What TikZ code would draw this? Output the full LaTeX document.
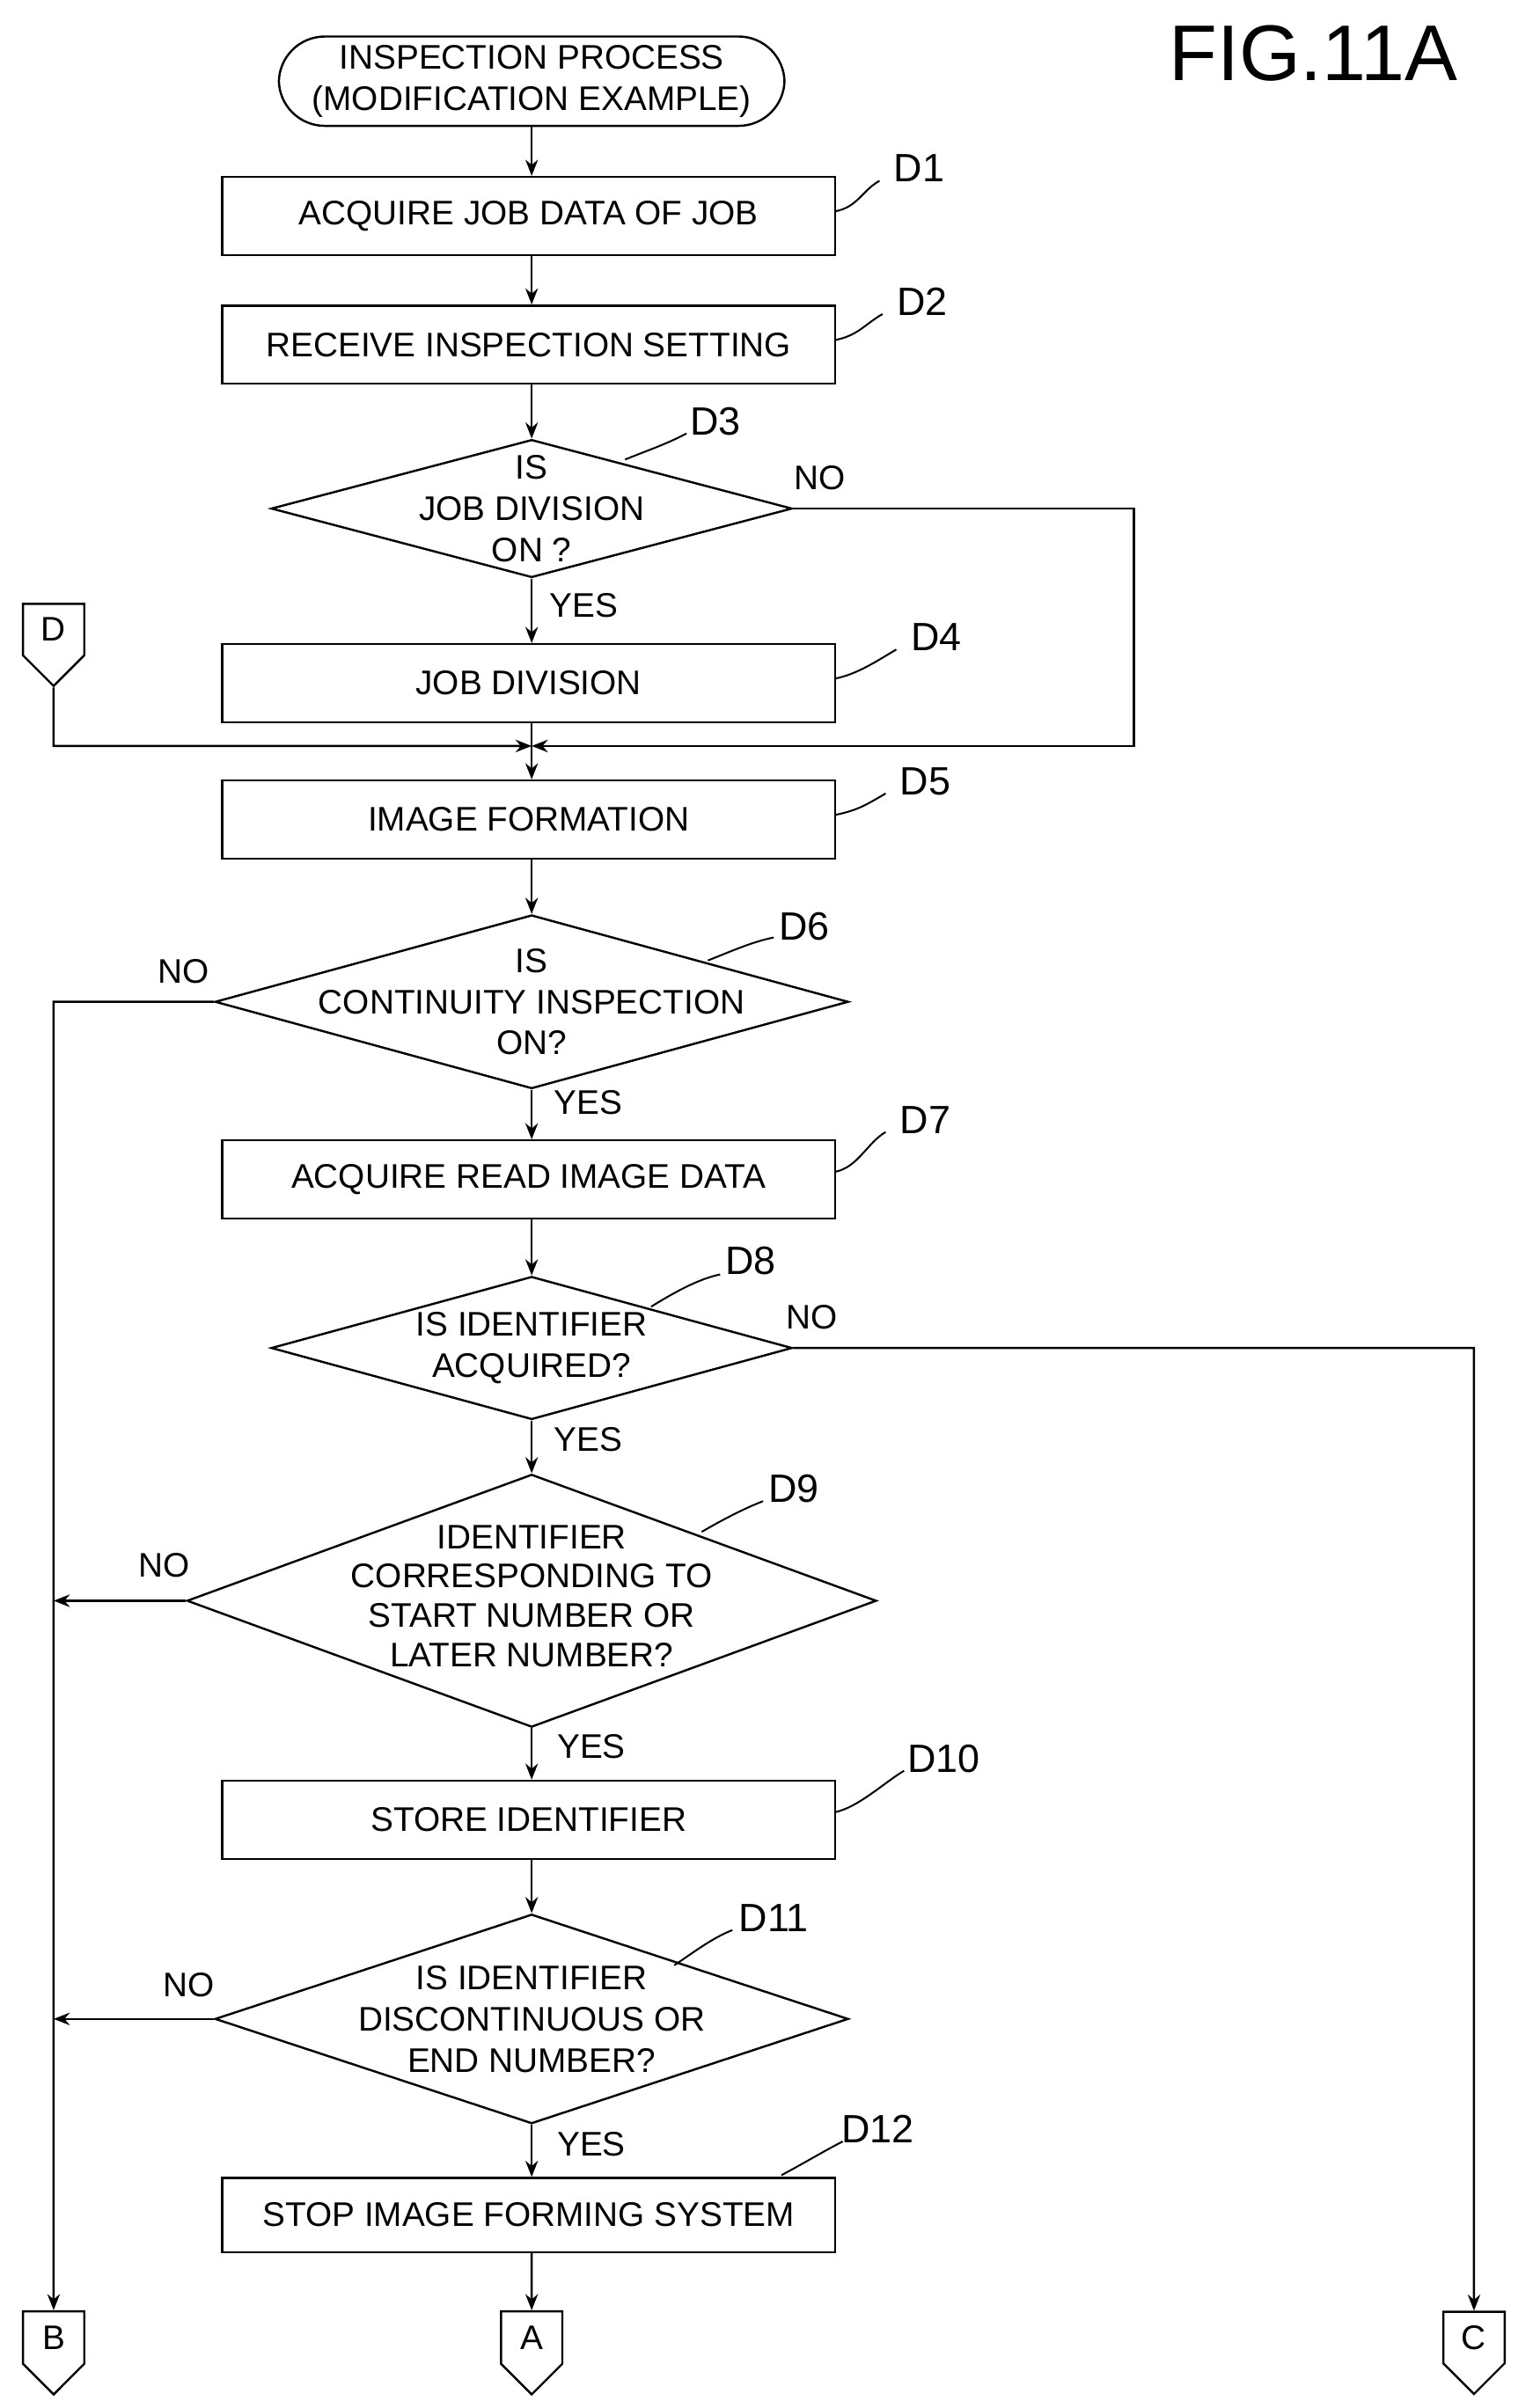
\documentclass[tikz,border=0pt]{standalone}
\usepackage{fontspec}
\setmainfont{Liberation Sans}
\usetikzlibrary{shapes.geometric,shapes.symbols,arrows.meta}
\begin{document}
\begin{tikzpicture}[x=0.03cm,y=-0.03cm,
  every node/.style={font=\fontsize{19pt}{23pt}\selectfont},
  box/.style={draw,line width=1.2pt,minimum width=12cm,minimum height=1.53cm,inner sep=0pt},
  dia/.style={draw,line width=1.2pt,diamond,inner sep=0pt},
  txt/.style={align=center,inner sep=0pt},
  con/.style={draw,line width=1.2pt,signal,signal to=south,signal from=nowhere,minimum width=1.2cm,minimum height=1.25cm,inner sep=0pt},
  lab/.style={font=\fontsize{22pt}{26pt}\selectfont},
  arr/.style={line width=1.2pt,-{Stealth[length=9pt,width=7pt]}},
  ln/.style={line width=1.2pt},
  lead/.style={line width=1pt}]
\useasboundingbox (0,0) rectangle (1000,1572);
\node[font=\fontsize{44pt}{48pt}\selectfont] (fig) at (857,35) {FIG.11A};
\node[draw,line width=1.2pt,rounded corners=0.9cm,minimum width=9.9cm,minimum height=1.75cm,txt] (st) at (347,53) {INSPECTION PROCESS\\(MODIFICATION EXAMPLE)};
\node[box] (d1) at (345,141) {ACQUIRE JOB DATA OF JOB};
\node[box] (d2) at (345,225) {RECEIVE INSPECTION SETTING};
\node[dia,minimum width=10.2cm,minimum height=2.7cm] (d3) at (347,332) {};
\node[txt] at (347,332) {IS\\JOB DIVISION\\ON ?};
\node[box] (d4) at (345,446) {JOB DIVISION};
\node[box] (d5) at (345,535) {IMAGE FORMATION};
\node[dia,minimum width=12.4cm,minimum height=3.4cm] (d6) at (347,654) {};
\node[txt] at (347,654) {IS\\CONTINUITY INSPECTION\\ON?};
\node[box] (d7) at (345,770) {ACQUIRE READ IMAGE DATA};
\node[dia,minimum width=10.2cm,minimum height=2.8cm] (d8) at (347,880) {};
\node[txt] at (347,880) {IS IDENTIFIER\\ACQUIRED?};
\node[dia,minimum width=13.5cm,minimum height=4.95cm] (d9) at (347,1045) {};
\node[txt,font=\fontsize{19pt}{22pt}\selectfont] at (347,1042) {IDENTIFIER\\CORRESPONDING TO\\START NUMBER OR\\LATER NUMBER?};
\node[box] (d10) at (345,1188) {STORE IDENTIFIER};
\node[dia,minimum width=12.4cm,minimum height=4.1cm] (d11) at (347,1318) {};
\node[txt] at (347,1318) {IS IDENTIFIER\\DISCONTINUOUS OR\\END NUMBER?};
\node[box,minimum height=1.45cm] (d12) at (345,1446) {STOP IMAGE FORMING SYSTEM};
\node[con] (cd) at (35,411) {D};
\node[con] (ca) at (347,1526) {A};
\node[con] (cb) at (35,1526) {B};
\node[con] (cc) at (962,1526) {C};
% labels
\foreach \n/\x/\y/\bx/\by in {D1/600/110/545/138, D2/602/197/545/222, D4/611/416/545/443, D5/604/510/545/532, D7/604/731/545/765, D10/616/1148/545/1183}{
  \node[lab] (l\n) at (\x,\y) {\n};
  \draw[lead] (\bx,\by) .. controls (\bx+15,\by-3) and (\x-38,\y+15) .. (\x-26,\y+8);}
\node[lab] (lD3) at (467,275) {D3};
\draw[lead] (408,300) .. controls (420,295) and (435,290) .. (448,283);
\node[lab] (lD6) at (525,605) {D6};
\draw[lead] (462,627) .. controls (475,622) and (490,615) .. (505,612);
\node[lab] (lD8) at (490,823) {D8};
\draw[lead] (425,853) .. controls (438,845) and (455,835) .. (470,832);
\node[lab] (lD9) at (518,972) {D9};
\draw[lead] (458,1000) .. controls (470,993) and (485,985) .. (498,980);
\node[lab] (lD11) at (505,1252) {D11};
\draw[lead] (440,1283) .. controls (452,1275) and (465,1265) .. (478,1260);
\node[lab] (lD12) at (573,1390) {D12};
\draw[lead] (510,1420) .. controls (525,1412) and (540,1403) .. (550,1398);
% arrows
\coordinate (j) at (347,487);
\draw[arr] (st) -- (d1.north -| j);
\draw[arr] (d1.south -| j) -- (d2.north -| j);
\draw[arr] (d2.south -| j) -- (d3);
\draw[arr] (d3) -- (d4.north -| j);
\draw[ln] (d4.south -| j) -- (j);
\draw[arr] (j) -- (d5.north -| j);
\draw[arr] (d5.south -| j) -- (d6);
\draw[arr] (d6) -- (d7.north -| j);
\draw[arr] (d7.south -| j) -- (d8);
\draw[arr] (d8) -- (d9);
\draw[arr] (d9) -- (d10.north -| j);
\draw[arr] (d10.south -| j) -- (d11);
\draw[arr] (d11) -- (d12.north -| j);
\draw[arr] (d12.south -| j) -- (ca);
\draw[arr] (d3.east) -- (740,332) -- (740,487) -- (j);
\draw[arr] (cd) -- (35,487) -- (j);
\draw[arr] (d6.west) -- (35,654) -- (cb);
\draw[arr] (d9.west) -- (35,1045);
\draw[arr] (d11.west) -- (35,1318);
\draw[arr] (d8.east) -- (962,880) -- (cc);
% yes/no
\node at (535,312) {NO};
\node at (381,395) {YES};
\node at (120,634) {NO};
\node at (384,720) {YES};
\node at (530,860) {NO};
\node at (384,940) {YES};
\node at (107,1022) {NO};
\node at (386,1140) {YES};
\node at (123,1296) {NO};
\node at (386,1400) {YES};
\end{tikzpicture}
\end{document}
